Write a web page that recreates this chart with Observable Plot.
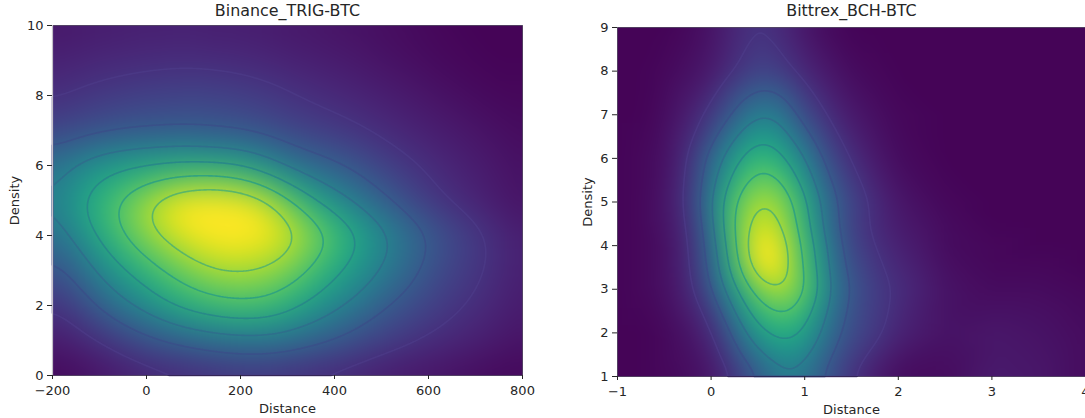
<!DOCTYPE html>
<html><head><meta charset="utf-8">
<script src="https://cdn.jsdelivr.net/npm/d3@7"></script>
<script src="https://cdn.jsdelivr.net/npm/@observablehq/plot@0.6"></script>
<style>
html,body{margin:0;background:#fff;overflow:hidden}
#root{position:relative;width:1085px;height:418px;overflow:hidden}
#root svg{position:absolute;top:0;background:transparent}
</style></head><body><div id="root"></div>
<script>
const titleA = "Binance_TRIG-BTC", titleB = "Bittrex_BCH-BTC";
const xLabel = "Distance", yLabel = "Density";
const xTicksA = [-200,0,200,400,600,800], yTicksA = [0,2,4,6,8,10];
const xTicksB = [-1,0,1,2,3,4], yTicksB = [1,2,3,4,5,6,7,8,9];
const levels = [0.143,0.286,0.429,0.571,0.714,0.857];
const levelColors = ["#4b3a86","#3a4f88","#2f6c8c","#27858a","#2a9f84","#4fb070"];

const colsA = [-200,-150,-100,-50,0,50,100,150,200,250,300,350,400,450,500,550,600,650,700,750,800];
const rowsA = [0,1,2,3,4,4.5,5,6,7,8,9,10];
const gridA = [
[.02,.03,.05,.07,.09,.10,.11,.12,.13,.13,.12,.11,.10,.09,.07,.06,.05,.04,.03,.02,.02],
[.07,.10,.14,.19,.25,.29,.33,.36,.38,.38,.36,.32,.28,.23,.19,.16,.13,.11,.09,.07,.05],
[.14,.20,.30,.40,.48,.58,.64,.68,.70,.69,.63,.55,.46,.39,.30,.25,.20,.16,.13,.10,.07],
[.24,.32,.46,.56,.66,.74,.81,.86,.87,.85,.80,.71,.61,.52,.43,.34,.26,.20,.16,.12,.08],
[.35,.46,.60,.72,.82,.90,.98,1.03,1.03,1.0,.93,.82,.71,.60,.48,.38,.29,.22,.17,.12,.08],
[.39,.52,.64,.75,.86,.97,1.04,1.07,1.05,.99,.87,.72,.60,.49,.39,.30,.23,.17,.13,.09,.06],
[.42,.55,.65,.75,.85,.95,1.0,1.01,.98,.91,.75,.60,.49,.40,.31,.24,.17,.13,.10,.07,.05],
[.37,.45,.52,.56,.58,.60,.60,.59,.56,.48,.40,.34,.30,.25,.20,.16,.13,.10,.08,.06,.04],
[.20,.23,.25,.265,.275,.28,.28,.27,.26,.24,.21,.19,.17,.15,.125,.105,.085,.07,.055,.04,.03],
[.13,.15,.165,.18,.19,.195,.20,.195,.185,.17,.15,.13,.115,.10,.085,.07,.055,.04,.03,.02,.02],
[.09,.10,.11,.115,.12,.125,.125,.12,.115,.105,.095,.085,.075,.065,.05,.04,.03,.02,.015,.01,.01],
[.06,.07,.075,.08,.085,.085,.085,.08,.08,.075,.065,.06,.05,.045,.035,.03,.02,.015,.01,.01,.01]
];

const colsB = [-1,-.75,-.5,-.25,0,.15,.3,.45,.6,.75,.9,1.05,1.2,1.35,1.5,1.75,2,2.5,3,3.5,4];
const rowsB = [1,2,3,3.5,4,4.5,5,6,7,8,9];
const gridB = [
[.01,.01,.02,.03,.06,.10,.17,.25,.32,.39,.40,.36,.27,.21,.14,.07,.03,.03,.07,.06,.03],
[.01,.01,.02,.05,.12,.22,.36,.50,.58,.62,.61,.52,.41,.30,.23,.17,.10,.05,.06,.05,.03],
[.01,.02,.04,.10,.26,.44,.59,.75,.84,.86,.82,.70,.52,.36,.27,.18,.13,.05,.03,.03,.02],
[.01,.02,.04,.11,.31,.53,.73,.90,1.02,.95,.79,.66,.48,.33,.24,.16,.11,.04,.02,.02,.01],
[.01,.02,.04,.11,.34,.55,.78,.95,1.1,.92,.79,.63,.47,.31,.21,.14,.09,.03,.02,.01,.01],
[.01,.02,.05,.13,.37,.62,.79,.90,.94,.86,.74,.57,.40,.28,.19,.12,.07,.03,.01,.01,.01],
[.01,.02,.05,.15,.42,.62,.76,.85,.87,.83,.71,.55,.40,.28,.21,.12,.06,.02,.01,.01,.01],
[.01,.02,.04,.13,.34,.45,.57,.66,.67,.61,.50,.40,.27,.19,.13,.07,.03,.01,.01,.01,.01],
[.01,.01,.03,.08,.17,.24,.33,.41,.44,.39,.28,.21,.15,.10,.07,.04,.02,.01,.01,.01,.01],
[.01,.01,.02,.04,.07,.11,.15,.19,.20,.17,.13,.10,.07,.05,.03,.02,.01,.01,.01,.01,.01],
[.01,.01,.01,.02,.05,.08,.12,.14,.14,.11,.08,.05,.03,.02,.01,.01,.01,.01,.01,.01,.01]
];

const table = (cols, rows, grid) => rows.flatMap((y, j) => cols.map((x, i) => ({x, y, v: grid[j][i]})));
const ink = "#262626";

function panel({cols, rows, grid, title, xTicks, yTicks, left, marginLeft, marginRight, marginTop, marginBottom, blur, spine, yLabelOffset}) {
  const data = table(cols, rows, grid);
  const xd = [cols[0], cols[cols.length-1]], yd = [rows[0], rows[rows.length-1]];
  const contourOpts = {x:"x", y:"y", fill:null, interpolate:"barycentric", blur, pixelSize:1, strokeWidth:1.6, strokeOpacity:.85};
  const svg = Plot.plot({
    width: 540, height: 418, marginLeft, marginRight, marginTop, marginBottom,
    style: {fontFamily: "DejaVu Sans", background: "transparent", overflow: "hidden"},
    x: {domain: xd}, y: {domain: yd},
    color: {type: "linear", scheme: "viridis", domain: [0, 1]},
    marks: [
      Plot.raster(data, {x:"x", y:"y", fill:"v", interpolate:"barycentric", pixelSize:1, blur}),
      ...levels.map((t, i) => Plot.contour(data, {...contourOpts, value:"v", thresholds:[t], stroke:levelColors[i]})),
      Plot.frame({stroke:"#1c1030", strokeOpacity:.6}),
      spine ? Plot.ruleX([xd[0]], {stroke:"#c4c0c8", strokeWidth:1.2}) : null,
      Plot.axisX({ticks:xTicks, tickFormat:"d", tickSize:4, tickPadding:6, fontSize:13, stroke:ink, fill:ink,
        label:xLabel, labelAnchor:"center", labelArrow:"none", labelOffset:37}),
      Plot.axisY({ticks:yTicks, tickFormat:"d", tickSize:5, tickPadding:4, fontSize:13, stroke:ink, fill:ink,
        label:yLabel, labelAnchor:"center", labelArrow:"none", labelOffset:yLabelOffset}),
      Plot.text([title], {frameAnchor:"top", dy:-marginTop + 4, lineAnchor:"top", fontSize:15.9, fill:ink})
    ]
  });
  svg.style.left = left + "px";
  document.getElementById("root").append(svg);
}
panel({cols:colsA, rows:rowsA, grid:gridA, title:titleA, xTicks:xTicksA, yTicks:yTicksA,
  left:0, marginLeft:52, marginRight:18, marginTop:25, marginBottom:43, blur:14, spine:true, yLabelOffset:43});
panel({cols:colsB, rows:rowsB, grid:gridB, title:titleB, xTicks:xTicksB, yTicks:yTicksB,
  left:545, marginLeft:72, marginRight:0, marginTop:27, marginBottom:42, blur:11, spine:false, yLabelOffset:35});
</script></body></html>
